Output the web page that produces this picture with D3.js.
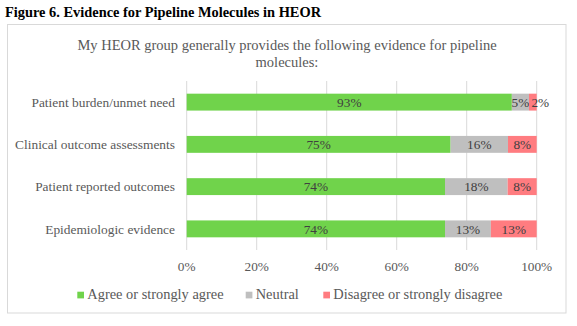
<!DOCTYPE html>
<html>
<head>
<meta charset="utf-8">
<script src="https://cdn.jsdelivr.net/npm/d3@7"></script>
<style>
  body { margin: 0; background: #fff; }
  text { font-family: "Liberation Serif", "Times New Roman", serif; }
</style>
</head>
<body>
<svg></svg>
<script>
const categories = [
  'Patient burden/unmet need',
  'Clinical outcome assessments',
  'Patient reported outcomes',
  'Epidemiologic evidence',
];
const agree = [92.9, 75.4, 73.8, 73.8];
const neutral = [4.9, 16.4, 17.9, 13.1];
const disagree = [2.2, 8.2, 8.3, 13.1];
const seriesNames = ['Agree or strongly agree', 'Neutral', 'Disagree or strongly disagree'];
const xTicks = [0, 20, 40, 60, 80, 100];

const colors = ['#70d34b', '#bfbfbf', '#ff7c80'];

const width = 577;
const height = 326;

const svg = d3.select('svg')
  .attr('width', width)
  .attr('height', height);

// figure caption above the frame
svg.append('text')
  .attr('x', 5)
  .attr('y', 17)
  .attr('font-size', 14.4)
  .attr('font-weight', 'bold')
  .attr('fill', '#000')
  .text('Figure 6. Evidence for Pipeline Molecules in HEOR');

// chart frame
svg.append('rect')
  .attr('x', 7.5)
  .attr('y', 24.5)
  .attr('width', 558.5)
  .attr('height', 288.5)
  .attr('fill', 'none')
  .attr('stroke', '#d9d9d9');

const title = svg.append('text')
  .attr('x', 287)
  .attr('text-anchor', 'middle')
  .attr('font-size', 14.5)
  .attr('fill', '#595959');
title.append('tspan').attr('x', 287).attr('y', 50)
  .text('My HEOR group generally provides the following evidence for pipeline');
title.append('tspan').attr('x', 287).attr('y', 67)
  .text('molecules:');

const x = d3.scaleLinear().domain([0, 100]).range([186.7, 536.7]);
const y = d3.scaleBand().domain(categories).range([81, 250]).paddingInner(0.6).paddingOuter(0.3);

// gridlines
svg.append('g')
  .selectAll('line')
  .data(xTicks)
  .join('line')
  .attr('x1', d => x(d))
  .attr('x2', d => x(d))
  .attr('y1', 81)
  .attr('y2', 250)
  .attr('stroke', '#d9d9d9')
  .attr('stroke-width', 1);

// x tick labels
svg.append('g')
  .selectAll('text')
  .data(xTicks)
  .join('text')
  .attr('x', d => x(d))
  .attr('y', 271)
  .attr('text-anchor', 'middle')
  .attr('font-size', 13.3)
  .attr('fill', '#595959')
  .text(d => d + '%');

// category labels
svg.append('g')
  .selectAll('text')
  .data(categories)
  .join('text')
  .attr('x', 175)
  .attr('y', d => y(d) + y.bandwidth() / 2)
  .attr('dy', '0.35em')
  .attr('text-anchor', 'end')
  .attr('font-size', 13.4)
  .attr('fill', '#595959')
  .text(d => d);

// stacked bars
const rows = categories.map((c, i) => ({ cat: c, a: agree[i], n: neutral[i], d: disagree[i] }));
const stack = d3.stack().keys(['a', 'n', 'd'])(rows);

const layers = svg.append('g')
  .selectAll('g')
  .data(stack)
  .join('g')
  .attr('fill', (d, i) => colors[i]);

layers.selectAll('rect')
  .data(d => d)
  .join('rect')
  .attr('x', d => x(d[0]))
  .attr('y', d => y(d.data.cat))
  .attr('width', d => x(d[1]) - x(d[0]))
  .attr('height', y.bandwidth());

// tiny segments get their label nudged right so it doesn't collide
layers.selectAll('text')
  .data(d => d)
  .join('text')
  .attr('x', d => (x(d[0]) + x(d[1])) / 2 + (d[1] - d[0] < 3 ? 7.5 : 0))
  .attr('y', d => y(d.data.cat) + y.bandwidth() / 2)
  .attr('dy', '0.35em')
  .attr('text-anchor', 'middle')
  .attr('font-size', 13.3)
  .attr('fill', '#404040')
  .text(d => Math.round(d[1] - d[0]) + '%');

// legend
const legendX = [77.3, 245.7, 323.3];
const legend = svg.append('g')
  .selectAll('g')
  .data(seriesNames)
  .join('g')
  .attr('transform', (d, i) => `translate(${legendX[i]},291.7)`);
legend.append('rect')
  .attr('width', 6.7)
  .attr('height', 6.7)
  .attr('fill', (d, i) => colors[i]);
legend.append('text')
  .attr('x', 10)
  .attr('y', 7.5)
  .attr('font-size', 14.4)
  .attr('fill', '#595959')
  .text(d => d);
</script>
</body>
</html>
